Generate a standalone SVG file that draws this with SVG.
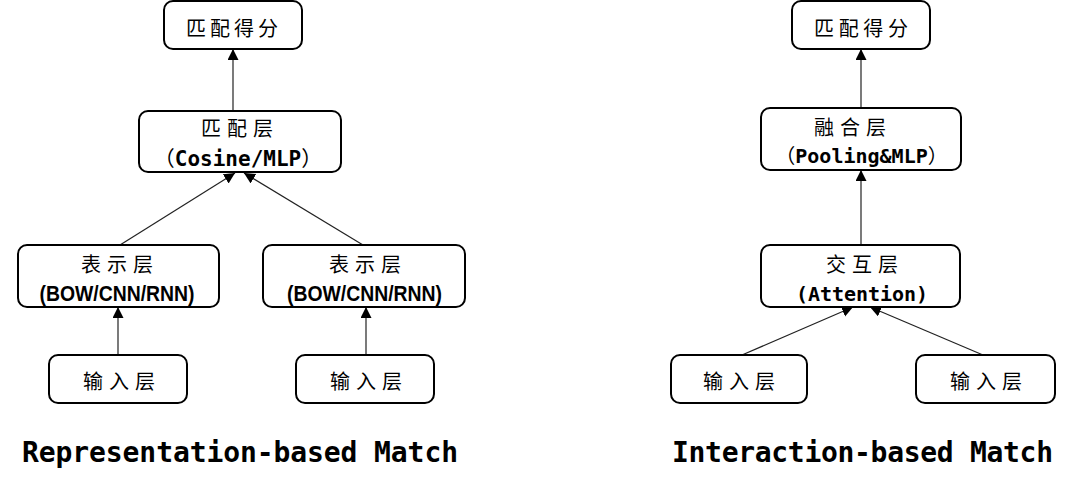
<svg xmlns="http://www.w3.org/2000/svg" width="1076" height="489" viewBox="0 0 1076 489">
<style>
.box{fill:#fff;stroke:#000;stroke-width:2}
.cjk{font-family:"Noto Sans CJK SC",sans-serif;font-size:20px;fill:#000;text-anchor:middle}
.mono{font-family:"DejaVu Sans Mono","Noto Sans CJK SC",monospace;font-weight:bold;fill:#000;text-anchor:middle}
.fw{font-family:"Noto Sans CJK SC",sans-serif;font-weight:normal}
.narrow{font-family:"Liberation Sans",sans-serif;font-weight:bold;font-size:22px;fill:#000;text-anchor:middle}
.title{font-family:"DejaVu Sans Mono",monospace;font-weight:bold;font-size:28px;fill:#000}
.conn line{stroke:#222;stroke-width:1.2;marker-end:url(#arr)}
</style>
<defs>
<marker id="arr" markerUnits="userSpaceOnUse" markerWidth="12" markerHeight="12" refX="11" refY="5.5" orient="auto">
<path d="M0,0 L11,5.5 L0,11 z" fill="#000"/>
</marker>
</defs>
<rect width="1076" height="489" fill="#fff"/>
<g class="conn" id="connectors">
<line x1="233" y1="111" x2="233" y2="49"/>
<line x1="120" y1="245" x2="235" y2="173"/>
<line x1="363" y1="245" x2="244" y2="173"/>
<line x1="118" y1="355" x2="118" y2="307"/>
<line x1="366" y1="355" x2="366" y2="307"/>
<line x1="861" y1="108" x2="861" y2="49"/>
<line x1="861" y1="245" x2="861" y2="170"/>
<line x1="742" y1="355" x2="853" y2="307"/>
<line x1="983" y1="355" x2="870" y2="307"/>
</g>
<g id="L_score"><rect class="box" x="164" y="1" width="138" height="48" rx="9"/><text class="cjk" x="232" y="36" textLength="92">匹配得分</text></g>
<g id="L_match"><rect class="box" x="139" y="111" width="202" height="61" rx="9"/><text class="cjk" x="237" y="136" textLength="72">匹配层</text><text class="mono" x="238" y="166" font-size="21"><tspan class="fw">（</tspan>Cosine/MLP<tspan class="fw">）</tspan></text></g>
<g id="L_rep1"><rect class="box" x="18" y="245" width="201" height="62" rx="9"/><text class="cjk" x="117" y="272" textLength="72">表示层</text><text class="narrow" x="117" y="301" textLength="155" lengthAdjust="spacingAndGlyphs">(BOW/CNN/RNN)</text></g>
<g id="L_rep2"><rect class="box" x="263" y="245" width="202" height="62" rx="9"/><text class="cjk" x="365" y="272" textLength="72">表示层</text><text class="narrow" x="364.5" y="301" textLength="155" lengthAdjust="spacingAndGlyphs">(BOW/CNN/RNN)</text></g>
<g id="L_in1"><rect class="box" x="49" y="355" width="138" height="48" rx="9"/><text class="cjk" x="119" y="389" textLength="72">输入层</text></g>
<g id="L_in2"><rect class="box" x="296" y="355" width="138" height="48" rx="9"/><text class="cjk" x="366" y="389" textLength="72">输入层</text></g>
<g id="R_score"><rect class="box" x="792" y="1" width="138" height="48" rx="9"/><text class="cjk" x="861" y="36" textLength="94">匹配得分</text></g>
<g id="R_fuse"><rect class="box" x="761" y="108" width="200" height="62" rx="9"/><text class="cjk" x="850" y="135" textLength="72">融合层</text><text class="mono" x="861.5" y="163" font-size="20"><tspan class="fw">（</tspan>Pooling&amp;MLP<tspan class="fw">）</tspan></text></g>
<g id="R_inter"><rect class="box" x="761" y="245" width="199" height="62" rx="9"/><text class="cjk" x="862" y="272" textLength="72">交互层</text><text class="mono" x="862" y="301" font-size="20" textLength="132">(Attention)</text></g>
<g id="R_in1"><rect class="box" x="671" y="355" width="136" height="48" rx="9"/><text class="cjk" x="739" y="389" textLength="72">输入层</text></g>
<g id="R_in2"><rect class="box" x="916" y="355" width="139" height="48" rx="9"/><text class="cjk" x="986" y="389" textLength="72">输入层</text></g>
<g id="titles">
<text class="title" x="22" y="462" textLength="436">Representation-based Match</text>
<text class="title" x="672" y="462" textLength="381">Interaction-based Match</text>
</g>
</svg>
